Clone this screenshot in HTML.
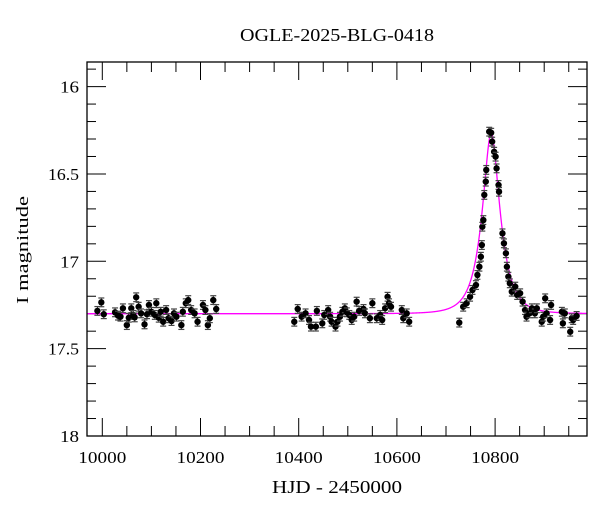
<!DOCTYPE html>
<html><head><meta charset="utf-8"><style>
html,body{margin:0;padding:0;background:#fff;}
svg{display:block;font-family:"Liberation Serif",serif;}
</style></head><body>
<svg id="chart" width="600" height="512" viewBox="0 0 600 512">
<text x="337" y="41" text-anchor="middle" font-size="18" textLength="194" lengthAdjust="spacingAndGlyphs">OGLE-2025-BLG-0418</text>
<text x="337" y="493" text-anchor="middle" font-size="18" textLength="130" lengthAdjust="spacingAndGlyphs">HJD - 2450000</text>
<text transform="translate(28,250) rotate(-90)" text-anchor="middle" font-size="17" textLength="108" lengthAdjust="spacingAndGlyphs">I magnitude</text>
<g id="ticks"></g>
<g id="model"></g>
<g id="points"></g>
<rect x="87" y="62" width="500" height="374" fill="none" stroke="#000" stroke-width="1.3"/>
</svg>
<script>
const xTickVals=[10000,10200,10400,10600,10800];
const yTickVals=[16,16.5,17,17.5,18];
const times=[9990,9998,10003,10026,10032,10037,10042,10050,10054,10059,10063,10066,10069,10074,10079,10086,10091,10095,10100,10107,10110,10115,10119,10124,10130,10135,10141,10146,10151,10161,10164,10170,10175,10181,10188,10194,10205,10210,10215,10219,10226,10232,
10391,10398,10406,10414,10421,10425,10435,10437,10448,10452,10460,10464,10467,10475,10479,10484,10489,10494,10498,10503,10508,10513,10518,10523,10532,10535,10545,10550,10559,10566,10570,10576,10581,10584,10588,10610,10613,10620,10625,
10727,10735,10742,10749,10754,10761,10764,10768,10771,10773,10774,10776,10778,10781,10782,10788,10792,10794,10798,10801,10803,10807,10808,10815,10818,10822,10824,10827,10830,10834,10841,10845,10851,10856,10861,10864,10870,10875,10881,10885,10895,10898,10902,10905,10912,10914,10936,10938,10942,10953,10956,10959,10966];
const mags=[17.284,17.235,17.303,17.292,17.311,17.317,17.269,17.365,17.323,17.269,17.307,17.321,17.206,17.260,17.298,17.361,17.303,17.250,17.289,17.307,17.240,17.323,17.289,17.346,17.279,17.326,17.342,17.298,17.317,17.365,17.289,17.240,17.222,17.279,17.298,17.346,17.250,17.279,17.365,17.326,17.222,17.273,
17.346,17.273,17.317,17.298,17.336,17.374,17.374,17.284,17.355,17.307,17.279,17.317,17.346,17.374,17.346,17.317,17.289,17.269,17.292,17.307,17.336,17.317,17.231,17.284,17.273,17.298,17.326,17.240,17.326,17.307,17.336,17.269,17.203,17.240,17.260,17.279,17.326,17.298,17.346,
17.351,17.260,17.240,17.203,17.164,17.136,17.078,17.031,16.974,16.907,16.802,16.764,16.620,16.544,16.477,16.258,16.264,16.315,16.373,16.401,16.468,16.563,16.602,16.840,16.897,16.954,17.031,17.088,17.126,17.174,17.145,17.193,17.183,17.231,17.279,17.317,17.298,17.269,17.298,17.269,17.346,17.317,17.212,17.298,17.336,17.250,17.289,17.355,17.298,17.403,17.326,17.336,17.313];
const modelParams=[10792,0.41,34,17.30]; // t0, u0, tE, baseline
const X=t=>102.3+(t-10000)*0.491;
const Y=m=>86.6+(m-16)*174.7;
const NS="http://www.w3.org/2000/svg";
function mk(tag,attrs,parent){const e=document.createElementNS(NS,tag);for(const k in attrs)e.setAttribute(k,attrs[k]);parent.appendChild(e);return e;}
const tg=document.getElementById('ticks');
for(let t=9950;t<=11000;t+=50){const x=X(t);if(x<88||x>586)continue;const maj=(t%200===0);const L=maj?18:10;
 const a=mk('line',{x1:x,y1:436,x2:x,y2:436-L,stroke:'#000','stroke-width':1},tg);
 
 
 const b=mk('line',{x1:x,y1:62,x2:x,y2:62+L,stroke:'#000','stroke-width':1},tg);
 
 }
xTickVals.forEach(v=>{const t=mk('text',{x:X(v),y:463,'text-anchor':'middle','font-size':17,textLength:48,lengthAdjust:'spacingAndGlyphs'},tg);t.textContent=v;
 
 });
for(let i=0;i<=21;i++){const m=15.9+i*0.1;const y=Y(m);if(y<63||y>435.5)continue;const maj=(Math.round(m*10)%5===0);const L=maj?19:9;
 const a=mk('line',{x1:87,y1:y,x2:87+L,y2:y,stroke:'#000','stroke-width':1},tg);
 
 
 const b=mk('line',{x1:587,y1:y,x2:587-L,y2:y,stroke:'#000','stroke-width':1},tg);
 
 }
yTickVals.forEach(v=>{const s=String(v);const t=mk('text',{x:79,y:Y(v)+6,'text-anchor':'end','font-size':17,textLength:s.length>2?31:19,lengthAdjust:'spacingAndGlyphs'},tg);t.textContent=s;
 
 });
const [t0,u0,tE,base]=modelParams;
let d='';
for(let t=9969;t<=10987;t+=0.5){const tau=(t-t0)/tE;const u=Math.sqrt(u0*u0+tau*tau);const A=(u*u+2)/(u*Math.sqrt(u*u+4));const m=base-2.5*Math.log10(A);d+=(d?'L':'M')+X(t).toFixed(2)+','+Y(m).toFixed(2);}
const mp=mk('path',{d:d,fill:'none',stroke:'#ff00ff','stroke-width':1.3},document.getElementById('model'));


const pg=document.getElementById('points');
times.forEach((t,i)=>{const x=X(t),y=Y(mags[i]);const e=0.025*174.7;
 const g=mk('g',{},pg);
 
 
 mk('line',{x1:x,y1:y-e,x2:x,y2:y+e,stroke:'#222','stroke-width':1},g);
 mk('line',{x1:x-3,y1:y-e,x2:x+3,y2:y-e,stroke:'#444','stroke-width':1.2},g);
 mk('line',{x1:x-3,y1:y+e,x2:x+3,y2:y+e,stroke:'#444','stroke-width':1.2},g);
 mk('circle',{cx:x,cy:y,r:3.2,fill:'#000'},g);});
</script>
</body></html>
